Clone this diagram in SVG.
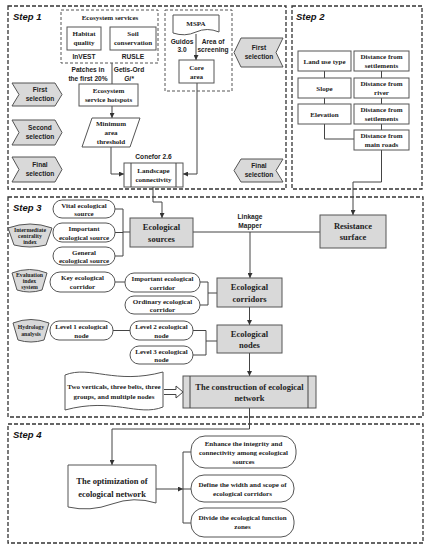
<svg xmlns="http://www.w3.org/2000/svg" width="431" height="550" viewBox="0 0 431 550">
<defs>
<marker id="a" viewBox="0 0 6 6" refX="6" refY="3" markerWidth="5" markerHeight="5" orient="auto"><path d="M0,0 L6,3 L0,6 Z" fill="#333"/></marker>
<style>
.box{fill:#fff;stroke:#555;stroke-width:1}
.gbox{fill:#d9d9d9;stroke:#555;stroke-width:1}
.dash{fill:none;stroke:#333;stroke-width:1.3;stroke-dasharray:4 2}
.idash{fill:none;stroke:#555;stroke-width:1;stroke-dasharray:3 2}
.t{font-family:"Liberation Serif",serif;font-weight:bold;font-size:7px;text-anchor:middle;fill:#222}
.b{font-family:"Liberation Serif",serif;font-weight:bold;font-size:8.5px;text-anchor:middle;fill:#222}
.s{font-family:"Liberation Sans",sans-serif;font-weight:bold;font-size:6.6px;text-anchor:middle;fill:#222}
.sm{font-family:"Liberation Serif",serif;font-weight:bold;font-size:5.8px;text-anchor:middle;fill:#222}
.step{font-family:"Liberation Sans",sans-serif;font-weight:bold;font-style:italic;font-size:9.5px;fill:#111}
.ln{fill:none;stroke:#444;stroke-width:1}
</style>
</defs>
<rect width="431" height="550" fill="#fff"/>

<g id="frames">
<rect class="dash" x="8" y="6" width="278" height="183"/>
<rect class="dash" x="292" y="6" width="130" height="183"/>
<rect class="dash" x="8" y="197" width="415" height="220"/>
<rect class="dash" x="8" y="424" width="415" height="119"/>
<text class="step" x="13" y="20">Step 1</text>
<text class="step" x="296" y="20">Step 2</text>
<text class="step" x="13" y="211">Step 3</text>
<text class="step" x="13" y="438">Step 4</text>
</g>

<g id="connectors">
<path class="ln" d="M112,63 V84"/>
<path class="ln" d="M112,106 V118" marker-end="url(#a)"/>
<path class="ln" d="M111,147 V174 H124" marker-end="url(#a)"/>
<path class="ln" d="M196,34 V60" marker-end="url(#a)"/>
<path class="ln" d="M197,83 V174 H183" marker-end="url(#a)"/>
<path class="ln" d="M324.5,71 V78 M324.5,98 V104 M324.5,124 V139 H354"/>
<path class="ln" d="M381.5,71 V78 M381.5,98 V104 M381.5,124 V130"/>
<path class="ln" d="M381.5,150 V182 H353 V215" marker-end="url(#a)"/>
<path class="ln" d="M115,209 H123 M115,232.5 H123 M115,256 H123 M123,209 V256 M123,232 H130"/>
<path class="ln" d="M153,187 V202 H162 V218" marker-end="url(#a)"/>
<path class="ln" d="M193,232 H320"/>
<path class="ln" d="M250,232 V278" marker-end="url(#a)"/>
<path class="ln" d="M115,282 H125"/>
<path class="ln" d="M200,282 H208 M200,305 H208 M208,282 V305 M208,293 H217"/>
<path class="ln" d="M249.5,307 V325" marker-end="url(#a)"/>
<path class="ln" d="M113,330.5 H130"/>
<path class="ln" d="M193,330.5 H206 M193,355 H206 M206,330.5 V355 M206,341 H217"/>
<path class="ln" d="M249.5,353 V376" marker-end="url(#a)"/>
<path d="M164,389.5 H176 V386 L183,392 L176,398 V394.5 H164" fill="#fff" stroke="#444" stroke-width="1"/>
<path class="ln" d="M249.5,408 V429 H112 V465" marker-end="url(#a)"/>
<path class="ln" d="M156,489 H183" marker-end="url(#a)"/>
<path class="ln" d="M183,452 V523 M183,452 H191 M183,489 H191 M183,523 H191"/>
</g>

<g id="eco-services">
<rect class="idash" x="61" y="10" width="97" height="53"/>
<text class="t" x="110" y="20">Ecosystem services</text>
</g>
<g id="habitat"><rect class="box" x="67" y="27" width="34" height="23"/><text class="t" x="84" y="36">Habitat</text><text class="t" x="84" y="45">quality</text></g>
<g id="soil"><rect class="box" x="110" y="27" width="46" height="23"/><text class="t" x="133" y="36">Soil</text><text class="t" x="133" y="45">conservation</text></g>
<g id="labels1">
<text class="s" x="84" y="59">InVEST</text>
<text class="s" x="133" y="59">RUSLE</text>
<text class="s" x="88" y="72">Patches in</text>
<text class="s" x="88" y="80.5">the first 20%</text>
<text class="s" x="129" y="72">Getis-Ord</text>
<text class="s" x="129" y="80.5" font-style="italic">Gi*</text>
<text class="s" x="153.5" y="159" font-size="7">Conefor 2.6</text>
<text class="s" x="182" y="44">Guidos</text>
<text class="s" x="182" y="52">3.0</text>
<text class="s" x="213" y="44">Area of</text>
<text class="s" x="213" y="52">screening</text>
</g>
<g id="hotspots"><rect class="box" x="79" y="84" width="59" height="22"/><text class="t" x="108.5" y="93">Ecosystem</text><text class="t" x="108.5" y="102">service hotspots</text></g>
<g id="threshold"><polygon class="box" points="92,118 140,118 130,147 82,147"/><text class="t" x="111" y="126">Minimum</text><text class="t" x="111" y="135">area</text><text class="t" x="111" y="144">threshold</text></g>
<g id="landscape"><rect class="box" x="124" y="163" width="59" height="24"/><path class="ln" d="M131,163 V187 M176,163 V187"/><text class="t" x="153.5" y="173">Landscape</text><text class="t" x="153.5" y="182">connectivity</text></g>
<g id="mspa-group"><rect class="idash" x="165" y="10" width="67" height="81"/></g>
<g id="mspa"><path class="box" d="M173,15 H219 V32 Q207,27 196,32 T173,33 Z"/><text class="t" x="196" y="26">MSPA</text></g>
<g id="core"><rect class="box" x="179" y="60" width="35" height="23"/><text class="t" x="196.5" y="70">Core</text><text class="t" x="196.5" y="79">area</text></g>

<g id="sel-first-l"><polygon class="gbox" points="12,83 55,83 62,94.5 55,106 12,106 19,94.5"/><text class="s" x="40" y="92">First</text><text class="s" x="40" y="101">selection</text></g>
<g id="sel-second-l"><polygon class="gbox" points="12,120 55,120 62,132.5 55,145 12,145 19,132.5"/><text class="s" x="40" y="130">Second</text><text class="s" x="40" y="139">selection</text></g>
<g id="sel-final-l"><polygon class="gbox" points="12,157 55,157 62,169.5 55,182 12,182 19,169.5"/><text class="s" x="40" y="167">Final</text><text class="s" x="40" y="176">selection</text></g>
<g id="sel-first-r"><polygon class="gbox" points="241,38 283,38 276,52.5 283,67 241,67 234,52.5"/><text class="s" x="259" y="50">First</text><text class="s" x="259" y="59">selection</text></g>
<g id="sel-final-r"><polygon class="gbox" points="241,159 283,159 276,170.5 283,182 241,182 234,170.5"/><text class="s" x="259" y="168">Final</text><text class="s" x="259" y="177">selection</text></g>

<g id="landuse"><rect class="box" x="298" y="51" width="53" height="20"/><text class="t" x="324.5" y="63.5">Land use type</text></g>
<g id="slope"><rect class="box" x="298" y="78" width="53" height="20"/><text class="t" x="324.5" y="90.5">Slope</text></g>
<g id="elevation"><rect class="box" x="298" y="104" width="53" height="20"/><text class="t" x="324.5" y="116.5">Elevation</text></g>
<g id="dist-settle1"><rect class="box" x="354" y="51" width="55" height="20"/><text class="t" x="381.5" y="59">Distance from</text><text class="t" x="381.5" y="68">settlements</text></g>
<g id="dist-river"><rect class="box" x="354" y="78" width="55" height="20"/><text class="t" x="381.5" y="86">Distance from</text><text class="t" x="381.5" y="95">river</text></g>
<g id="dist-settle2"><rect class="box" x="354" y="104" width="55" height="20"/><text class="t" x="381.5" y="112">Distance from</text><text class="t" x="381.5" y="121">settlements</text></g>
<g id="dist-roads"><rect class="box" x="354" y="130" width="55" height="20"/><text class="t" x="381.5" y="138">Distance from</text><text class="t" x="381.5" y="147">main roads</text></g>

<g id="vital"><rect class="box" x="53" y="200" width="62" height="18" rx="9"/><text class="t" x="84" y="207.5">Vital ecological</text><text class="t" x="84" y="216">source</text></g>
<g id="important-src"><rect class="box" x="53" y="223" width="62" height="19" rx="9"/><text class="t" x="84" y="231">Important</text><text class="t" x="84" y="239.5">ecological source</text></g>
<g id="general"><rect class="box" x="53" y="247" width="62" height="18" rx="9"/><text class="t" x="84" y="254.5">General</text><text class="t" x="84" y="263">ecological source</text></g>
<g id="eco-sources"><rect class="gbox" x="130" y="218" width="63" height="29"/><text class="b" x="161.5" y="230" font-size="9">Ecological</text><text class="b" x="161.5" y="242" font-size="9">sources</text></g>
<g id="linkage"><text class="s" x="250" y="219" font-size="7">Linkage</text><text class="s" x="250" y="228" font-size="7">Mapper</text></g>
<g id="resistance"><rect class="gbox" x="320" y="215" width="66" height="33"/><text class="b" x="353" y="229">Resistance</text><text class="b" x="353" y="240">surface</text></g>
<g id="intermediate"><path class="gbox" d="M8,228 Q30,220 52,228 L46,245 Q30,249 14,245 Z"/><text class="sm" x="30" y="232">Intermediate</text><text class="sm" x="30" y="238">centrality</text><text class="sm" x="30" y="244">index</text></g>
<g id="evaluation"><path class="gbox" d="M12,273 Q29.5,266 47,273 L42,290 Q29.5,294 17,290 Z"/><text class="sm" x="29.5" y="277">Evaluation</text><text class="sm" x="29.5" y="283">index</text><text class="sm" x="29.5" y="289">system</text></g>
<g id="key-corr"><rect class="box" x="50" y="272" width="65" height="20" rx="10"/><text class="t" x="82.5" y="280">Key ecological</text><text class="t" x="82.5" y="289">corridor</text></g>
<g id="imp-corr"><rect class="box" x="125" y="273" width="75" height="19" rx="9"/><text class="t" x="162.5" y="281">Important ecological</text><text class="t" x="162.5" y="290">corridor</text></g>
<g id="ord-corr"><rect class="box" x="125" y="296" width="75" height="18" rx="9"/><text class="t" x="162.5" y="303.5">Ordinary ecological</text><text class="t" x="162.5" y="312">corridor</text></g>
<g id="eco-corridors"><rect class="gbox" x="217" y="278" width="65" height="29"/><text class="b" x="249.5" y="290">Ecological</text><text class="b" x="249.5" y="302">corridors</text></g>
<g id="hydrology"><path class="gbox" d="M13,323 Q31,316 49,323 L44,340 Q31,344 18,340 Z"/><text class="sm" x="31" y="329">Hydrology</text><text class="sm" x="31" y="335.5">analysis</text></g>
<g id="level1"><rect class="box" x="50" y="321" width="63" height="19" rx="9"/><text class="t" x="81.5" y="329">Level 1 ecological</text><text class="t" x="81.5" y="337.5">node</text></g>
<g id="level2"><rect class="box" x="130" y="321" width="63" height="19" rx="9"/><text class="t" x="161.5" y="329">Level 2 ecological</text><text class="t" x="161.5" y="337.5">node</text></g>
<g id="level3"><rect class="box" x="130" y="346" width="63" height="18" rx="9"/><text class="t" x="161.5" y="353.5">Level 3 ecological</text><text class="t" x="161.5" y="362">node</text></g>
<g id="eco-nodes"><rect class="gbox" x="217" y="325" width="65" height="28"/><text class="b" x="249.5" y="337">Ecological</text><text class="b" x="249.5" y="348">nodes</text></g>
<g id="pattern"><path class="box" d="M65,375 C90,365 115,385 163,372 L163,407 C138,417 113,397 65,410 Z"/><text class="t" x="114" y="389" font-size="7.5">Two verticals, three belts, three</text><text class="t" x="114" y="399" font-size="7.5">groups, and multiple nodes</text></g>
<g id="construction"><rect class="gbox" x="183" y="376" width="133" height="32"/><path class="ln" d="M190,376 V408 M308,376 V408"/><text class="b" x="249.5" y="390">The construction of ecological</text><text class="b" x="249.5" y="401">network</text></g>

<g id="optimization"><path class="box" d="M68,465 H156 V503 Q134,496 112,504 T68,507 Z"/><text class="b" x="112" y="484" font-size="9.5">The optimization of</text><text class="b" x="112" y="497" font-size="9.5">ecological network</text></g>
<g id="enhance"><rect class="box" x="191" y="436" width="105" height="32" rx="14"/><text class="t" x="243.5" y="446" font-size="7.2">Enhance the integrity and</text><text class="t" x="243.5" y="455" font-size="7.2">connectivity among ecological</text><text class="t" x="243.5" y="464" font-size="7.2">sources</text></g>
<g id="define"><rect class="box" x="191" y="475" width="103" height="27" rx="13"/><text class="t" x="242.5" y="487" font-size="7.2">Define the width and scope of</text><text class="t" x="242.5" y="496" font-size="7.2">ecological corridors</text></g>
<g id="divide"><rect class="box" x="191" y="508" width="103" height="29" rx="13"/><text class="t" x="242.5" y="520" font-size="7.2">Divide the ecological function</text><text class="t" x="242.5" y="529" font-size="7.2">zones</text></g>
</svg>
